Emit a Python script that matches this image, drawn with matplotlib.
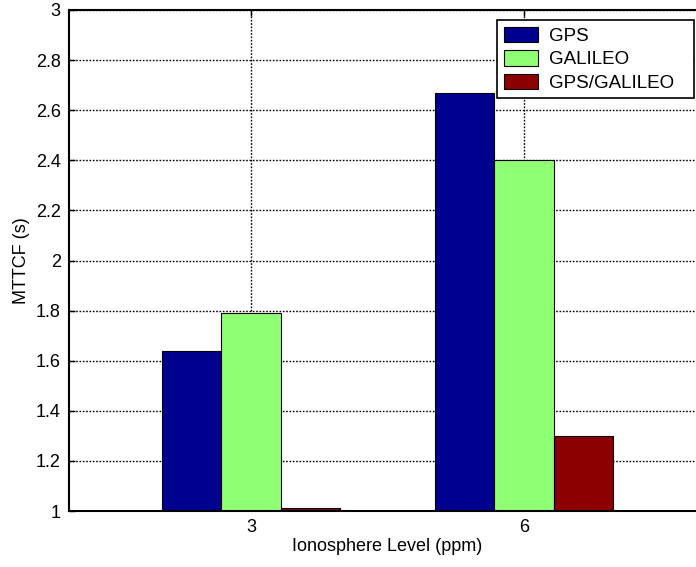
import matplotlib
matplotlib.use("Agg")
import matplotlib.pyplot as plt
import numpy as np

plt.rcParams['font.family'] = ['Liberation Sans', 'DejaVu Sans']

# Data
levels = [3, 6]
level_labels = ['3', '6']
series_names = ['GPS', 'GALILEO', 'GPS/GALILEO']
gps = [1.64, 2.67]
galileo = [1.79, 2.40]
gps_galileo = [1.01, 1.30]
series_values = [gps, galileo, gps_galileo]
y_ticks = [1, 1.2, 1.4, 1.6, 1.8, 2, 2.2, 2.4, 2.6, 2.8, 3]
y_tick_labels = ['1', '1.2', '1.4', '1.6', '1.8', '2', '2.2', '2.4', '2.6', '2.8', '3']
colors = ['#00008F', '#8FFF73', '#8C0000']

W, H = 696, 567
fig = plt.figure(figsize=(W / 100, H / 100), dpi=100)
left, right, top, bottom = 69, 706, 10, 511
ax = fig.add_axes([left / W, (H - bottom) / H, (right - left) / W, (bottom - top) / H])

bar_w = 0.652
x = np.array(levels, dtype=float)
for i, (name, vals, c) in enumerate(zip(series_names, series_values, colors)):
    ax.bar(x + (i - 1) * bar_w, vals, width=bar_w, color=c, edgecolor='black',
           linewidth=0.8, label=name, zorder=3)

ax.set_xlim(1, 8)
ax.set_ylim(1, 3)
ax.set_xticks(levels)
ax.set_xticklabels(level_labels)
ax.set_yticks(y_ticks)
ax.set_yticklabels(y_tick_labels)
ax.tick_params(direction='in', length=4, width=1, labelsize=13, pad=6,
               top=True, right=True)
ax.grid(True, linestyle=(0, (1.2, 1.2)), color='black', linewidth=1.0, zorder=0)
ax.set_axisbelow(True)
for s in ax.spines.values():
    s.set_linewidth(1.5)
    s.set_zorder(5)

ax.set_xlabel('Ionosphere Level (ppm)', fontsize=13, labelpad=1)
ax.set_ylabel('MTTCF (s)', fontsize=13, labelpad=4)

# legend box spans a fixed width near the top-right corner
leg_x0, leg_x1, leg_top, leg_bot = 497, 694, 20, 97
leg = ax.legend(loc='upper left', mode='expand',
                bbox_to_anchor=(leg_x0 / W, 1 - leg_bot / H,
                                (leg_x1 - leg_x0) / W, (leg_bot - leg_top) / H),
                bbox_transform=fig.transFigure, fontsize=13.5, frameon=True,
                fancybox=False, framealpha=1, edgecolor='black',
                borderpad=0.35, labelspacing=0.28, handlelength=1.85,
                handleheight=0.9, handletextpad=0.6, borderaxespad=0)
leg.get_frame().set_linewidth(1.2)
leg.set_zorder(10)

fig.savefig('out.png', dpi=100)
